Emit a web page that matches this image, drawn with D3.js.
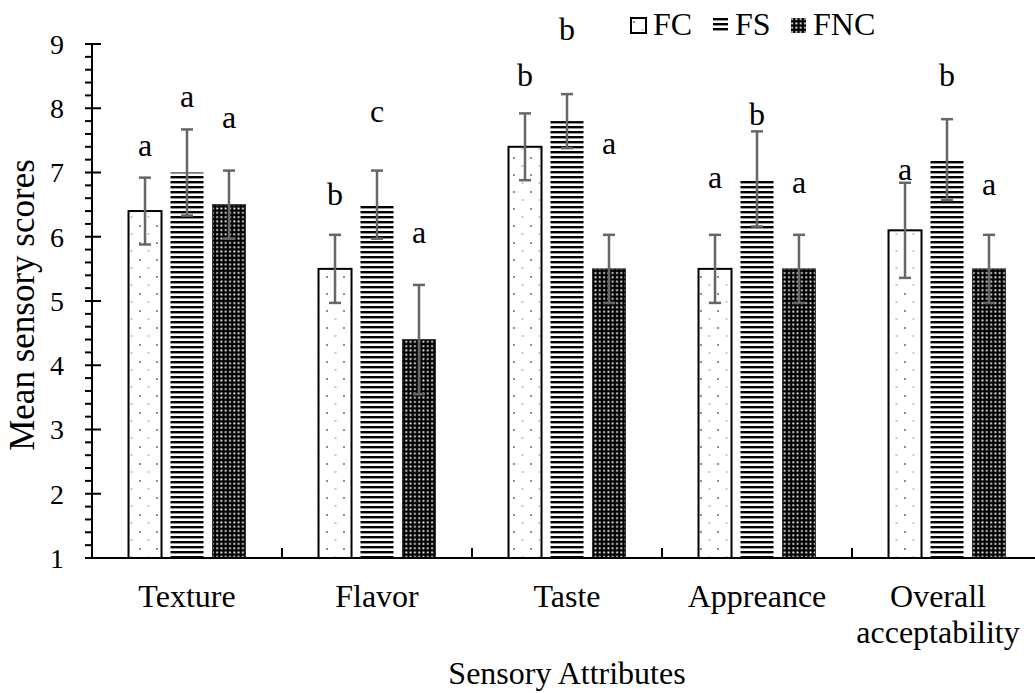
<!DOCTYPE html>
<html>
<head>
<meta charset="utf-8">
<title>Mean sensory scores</title>
<style>
  body { margin: 0; background: #fff; }
  text { font-family: "Liberation Serif", "Times New Roman", serif; fill: #000; }
</style>
</head>
<body>
<div id="chart"></div>
<script src="https://cdn.jsdelivr.net/npm/d3@7"></script>
<script>
(function(){
  "use strict";

  var categories = ["Texture", "Flavor", "Taste", "Appreance", "Overall acceptability"];
  var series = ["FC", "FS", "FNC"];
  var fcValues  = [6.4, 5.5, 7.4, 5.5, 6.1];
  var fsValues  = [7.0, 6.5, 7.8, 6.9, 7.2];
  var fncValues = [6.5, 4.4, 5.5, 5.5, 5.5];
  var fcErr  = [0.52, 0.53, 0.52, 0.53, 0.74];
  var fsErr  = [0.67, 0.53, 0.42, 0.74, 0.63];
  var fncErr = [0.53, 0.85, 0.53, 0.53, 0.53];
  // significance letters and the score level of their baseline
  var fcLetters  = ["a", "b", "b", "a", "a"];
  var fsLetters  = ["a", "c", "b", "b", "b"];
  var fncLetters = ["a", "a", "a", "a", "a"];
  var fcLetterY  = [7.25, 6.49, 8.34, 6.76, 6.89];
  var fsLetterY  = [8.02, 7.78, 9.06, 7.74, 8.35];
  var fncLetterY = [7.69, 5.90, 7.29, 6.68, 6.65];
  var yTicks = [1, 2, 3, 4, 5, 6, 7, 8, 9];

  var values = [fcValues, fsValues, fncValues];
  var errs = [fcErr, fsErr, fncErr];
  var letters = [fcLetters, fsLetters, fncLetters];
  var letterY = [fcLetterY, fsLetterY, fncLetterY];

  var w = 1035, h = 693;
  var left = 92, right = 1042, top = 44, bottom = 558;

  var svg = d3.select("#chart").append("svg")
    .attr("width", w)
    .attr("height", h);

  var defs = svg.append("defs");

  // FC: dotted blue on white
  var pFC = defs.append("pattern").attr("id", "pFC")
    .attr("patternUnits", "userSpaceOnUse").attr("width", 17).attr("height", 17);
  pFC.append("rect").attr("width", 17).attr("height", 17).attr("fill", "#fff");
  pFC.append("rect").attr("x", 3).attr("y", 4).attr("width", 2).attr("height", 2).attr("fill", "#5b9bd5");
  pFC.append("rect").attr("x", 11.5).attr("y", 12.5).attr("width", 2).attr("height", 1).attr("fill", "#5b9bd5");

  // FS: narrow horizontal lines
  var pFS = defs.append("pattern").attr("id", "pFS")
    .attr("patternUnits", "userSpaceOnUse").attr("width", 8).attr("height", 5);
  pFS.append("rect").attr("width", 8).attr("height", 5).attr("fill", "#fff");
  pFS.append("rect").attr("y", 1).attr("width", 8).attr("height", 2.4).attr("fill", "#000");

  // FNC: black with small white squares
  var pFNC = defs.append("pattern").attr("id", "pFNC")
    .attr("patternUnits", "userSpaceOnUse").attr("width", 4.3).attr("height", 4.3);
  pFNC.append("rect").attr("width", 4.3).attr("height", 4.3).attr("fill", "#000");
  pFNC.append("rect").attr("x", 1.2).attr("y", 1.2).attr("width", 1.8).attr("height", 1.8).attr("fill", "#fff");

  var fills = ["url(#pFC)", "url(#pFS)", "url(#pFNC)"];

  var x0 = d3.scaleBand().domain(categories).range([left, right]).paddingInner(0).paddingOuter(0);
  var x1 = d3.scaleBand().domain(series).range([0, x0.bandwidth()])
    .paddingInner(0.214).paddingOuter(0.87);
  var y = d3.scaleLinear().domain([1, 9]).range([bottom, top]);

  var rows = [];
  series.forEach(function(s, si){
    categories.forEach(function(c, ci){
      rows.push({ s: s, si: si, c: c, v: values[si][ci], e: errs[si][ci],
                  l: letters[si][ci], ly: letterY[si][ci] });
    });
  });

  // bars
  svg.append("g").selectAll("rect")
    .data(rows).enter().append("rect")
    .attr("x", function(d){ return x0(d.c) + x1(d.s); })
    .attr("y", function(d){ return y(d.v); })
    .attr("width", x1.bandwidth())
    .attr("height", function(d){ return y(1) - y(d.v); })
    .attr("fill", function(d){ return fills[d.si]; })
    .attr("stroke", function(d){ return d.si === 0 ? "#000" : (d.si === 2 ? "#333" : "none"); })
    .attr("stroke-width", function(d){ return d.si === 0 ? 2 : 1; });

  // error bars
  var eb = svg.append("g").attr("stroke", "#666").attr("stroke-width", 2.5).attr("fill", "none");
  rows.forEach(function(d){
    var cx = x0(d.c) + x1(d.s) + x1.bandwidth() / 2;
    var y1 = y(d.v + d.e), y2 = y(d.v - d.e);
    eb.append("line").attr("x1", cx).attr("x2", cx).attr("y1", y1).attr("y2", y2);
    eb.append("line").attr("x1", cx - 6).attr("x2", cx + 6).attr("y1", y1).attr("y2", y1);
    eb.append("line").attr("x1", cx - 6).attr("x2", cx + 6).attr("y1", y2).attr("y2", y2);
  });

  // letters
  svg.append("g").selectAll("text")
    .data(rows).enter().append("text")
    .attr("x", function(d){ return x0(d.c) + x1(d.s) + x1.bandwidth() / 2; })
    .attr("y", function(d){ return y(d.ly); })
    .attr("text-anchor", "middle")
    .attr("font-size", 32)
    .text(function(d){ return d.l; });

  // y axis
  var ya = svg.append("g").attr("stroke", "#000").attr("stroke-width", 2);
  ya.append("line").attr("x1", left).attr("x2", left).attr("y1", y(1)).attr("y2", y(9));
  d3.range(1, 9.001, 0.2).forEach(function(v){
    ya.append("line").attr("x1", left - 7).attr("x2", left).attr("y1", y(v)).attr("y2", y(v));
  });
  yTicks.forEach(function(v){
    ya.append("line").attr("x1", left).attr("x2", left + 9).attr("y1", y(v)).attr("y2", y(v));
  });
  svg.append("g").selectAll("text")
    .data(yTicks).enter().append("text")
    .attr("x", 64)
    .attr("y", function(d){ return y(d); })
    .attr("dy", "0.35em")
    .attr("text-anchor", "end")
    .attr("font-size", 28)
    .text(function(d){ return d; });

  // x axis
  var xa = svg.append("g").attr("stroke", "#000").attr("stroke-width", 2);
  xa.append("line").attr("x1", left).attr("x2", w).attr("y1", bottom).attr("y2", bottom);
  categories.forEach(function(c){
    var xx = x0(c) + x0.bandwidth();
    xa.append("line").attr("x1", xx).attr("x2", xx).attr("y1", bottom).attr("y2", bottom - 10);
  });
  var xl = svg.append("g").selectAll("text")
    .data(categories).enter().append("text")
    .attr("y", 607)
    .attr("text-anchor", "middle")
    .attr("font-size", 32);
  xl.each(function(d){
    var parts = d === "Overall acceptability" ? ["Overall", "acceptability"] : [d];
    // the last label is pushed left to stay inside the picture
    var cx = Math.min(x0(d) + x0.bandwidth() / 2, 938);
    var t = d3.select(this);
    parts.forEach(function(p, i){
      t.append("tspan").attr("x", cx).attr("dy", i === 0 ? 0 : 36).text(p);
    });
  });

  // axis titles
  svg.append("text")
    .attr("x", (left + right) / 2).attr("y", 684)
    .attr("text-anchor", "middle")
    .attr("font-size", 32)
    .text("Sensory Attributes");
  svg.append("text")
    .attr("transform", "translate(34,305) rotate(-90)")
    .attr("text-anchor", "middle")
    .attr("font-size", 35)
    .text("Mean sensory scores");

  // legend
  var lg = svg.append("g").attr("transform", "translate(630,17)");
  var lx = [0, 82, 160];
  series.forEach(function(s, i){
    var g = lg.append("g").attr("transform", "translate(" + lx[i] + ",0)");
    g.append("rect").attr("x", 1).attr("y", 1).attr("width", 15).attr("height", 15)
      .attr("fill", fills[i])
      .attr("stroke", i === 0 ? "#000" : "none")
      .attr("stroke-width", 2);
    g.append("text").attr("x", 23).attr("y", 18)
      .attr("font-size", 32)
      .text(s);
  });

})();
</script>
</body>
</html>
